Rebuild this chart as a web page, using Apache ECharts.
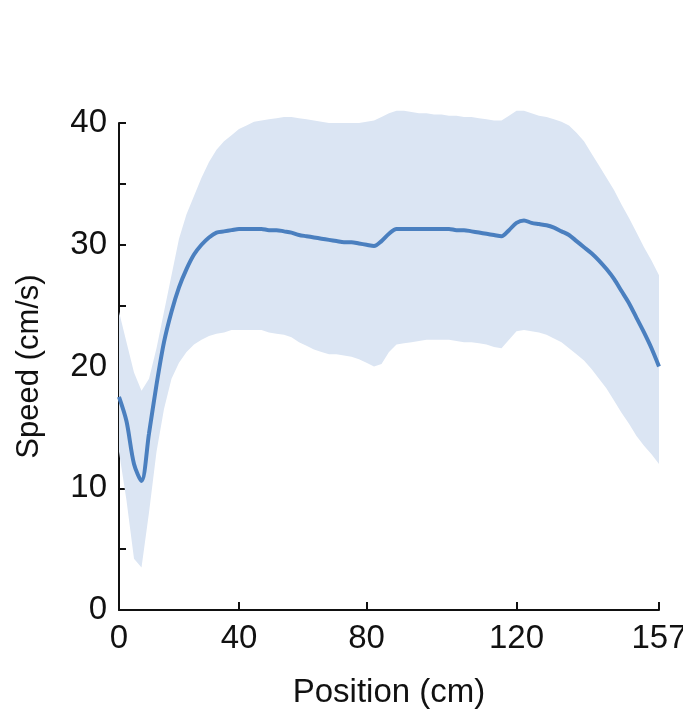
<!DOCTYPE html><html><head><meta charset="utf-8"><script src="https://cdn.jsdelivr.net/npm/echarts@6/dist/echarts.min.js"></script></head><body style="margin:0;background:#fff"><div id="c" style="width:683px;height:722px"></div><script>
const meanSpeed=[17.5,15.5,12,10.6,14.5,18.5,22,24.5,26.5,28,29.2,30,30.6,31,31.1,31.2,31.3,31.3,31.3,31.3,31.2,31.2,31.1,31,30.8,30.7,30.6,30.5,30.4,30.3,30.2,30.2,30.1,30,29.9,30.3,30.9,31.3,31.3,31.3,31.3,31.3,31.3,31.3,31.3,31.2,31.2,31.1,31,30.9,30.8,30.7,31.2,31.8,32,31.8,31.7,31.6,31.4,31.1,30.8,30.3,29.8,29.3,28.7,28,27.2,26.2,25.2,24,22.8,21.5,20];
const upperSpeed=[24.5,22,19.5,18,19,21.5,24.5,27.5,30.5,32.5,34,35.5,36.8,37.8,38.5,39,39.5,39.8,40.1,40.2,40.3,40.4,40.5,40.5,40.4,40.3,40.2,40.1,40,40,40,40,40,40.1,40.2,40.5,40.8,41,41,40.9,40.8,40.8,40.7,40.7,40.6,40.6,40.5,40.5,40.4,40.3,40.2,40.2,40.6,41,41,40.8,40.6,40.5,40.3,40.1,39.8,39.2,38.5,37.5,36.5,35.5,34.5,33.3,32.2,31,29.8,28.7,27.5];
const lowerSpeed=[13,9,4.2,3.5,8,13,16.5,19,20.3,21.2,21.8,22.2,22.5,22.7,22.8,23,23,23,23,23,22.8,22.7,22.6,22.4,22,21.7,21.4,21.2,21,21,20.9,20.8,20.6,20.3,20,20.2,21.2,21.8,21.9,22,22.1,22.2,22.2,22.2,22.2,22.1,22,22,21.9,21.8,21.6,21.5,22.2,22.9,23,22.9,22.8,22.6,22.3,22,21.5,21,20.5,19.8,19,18.2,17.2,16.2,15.3,14.3,13.5,12.8,12];
const xLabels={0:'0',16:'40',33:'80',53:'120',72:'157'};
const yTickLabels=[0,10,20,30,40];
const cats=meanSpeed.map((_,i)=>String(i));
const bandWidth=upperSpeed.map((u,i)=>+(u-lowerSpeed[i]).toFixed(2));
const ch=echarts.init(document.getElementById('c'));
const F='Liberation Sans, Arial, sans-serif';
ch.setOption({animation:false,
grid:{left:119,right:24,top:123,bottom:112,containLabel:false,outerBoundsMode:'none'},
xAxis:{type:'category',data:cats,boundaryGap:false,
 name:'Position (cm)',nameLocation:'middle',nameGap:66,nameTextStyle:{fontFamily:F,fontSize:33,color:'#111'},
 axisLine:{lineStyle:{color:'#111',width:2}},
 axisTick:{inside:true,length:8,lineStyle:{width:2,color:'#111'},interval:(i)=>i in xLabels},
 axisLabel:{interval:(i)=>i in xLabels,formatter:(v,i)=>xLabels[i]||'',fontFamily:F,fontSize:33,color:'#111',margin:12},
 splitLine:{show:false}},
yAxis:{type:'value',min:0,max:40,interval:5,
 name:'Speed (cm/s)',nameLocation:'middle',nameGap:74,nameTextStyle:{fontFamily:F,fontSize:31,color:'#111'},
 axisLine:{show:true,lineStyle:{color:'#111',width:2}},
 axisTick:{show:true,inside:true,length:7,lineStyle:{width:2,color:'#111'}},
 axisLabel:{formatter:(v)=>yTickLabels.includes(v)?String(v):'',fontFamily:F,fontSize:33,color:'#111',margin:12},
 splitLine:{show:false}},
series:[
 {type:'line',data:lowerSpeed,stack:'b',symbol:'none',lineStyle:{opacity:0},clip:false,silent:true},
 {type:'line',data:bandWidth,stack:'b',symbol:'none',lineStyle:{opacity:0},areaStyle:{color:'#dbe5f3',opacity:1},clip:false,silent:true},
 {type:'line',data:meanSpeed,symbol:'none',smooth:0.3,lineStyle:{color:'#4a7fbf',width:4},clip:false}
]});
</script></body></html>
